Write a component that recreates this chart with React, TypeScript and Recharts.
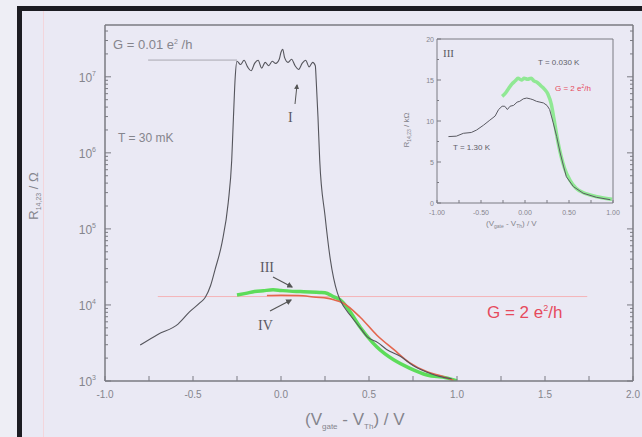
import React from 'react';
import { ComposedChart, LineChart, Line, XAxis, YAxis, ReferenceLine } from 'recharts';

// main panel: gate offset (V) vs four-terminal resistance (Ohm)
const curveIV = [-0.8, -0.7, -0.585, -0.52, -0.46, -0.43, -0.4, -0.375, -0.335, -0.3, -0.28, -0.27, -0.26, -0.25,
  -0.23, -0.21, -0.19, -0.17, -0.15, -0.13, -0.11, -0.09, -0.07, -0.05, -0.03, -0.01, 0.0, 0.01, 0.02, 0.04,
  0.06, 0.08, 0.1, 0.12, 0.14, 0.16, 0.18, 0.195, 0.2, 0.21, 0.22, 0.25, 0.28, 0.32, 0.335, 0.4, 0.45,
  0.49, 0.55, 0.6, 0.68, 0.75, 0.86, 0.9, 0.97];
const curveIR = [2970, 4100, 5600, 8100, 10700, 12600, 18000, 29000, 66000, 220000, 800000, 3000000, 10000000, 16000000,
  14500000, 16500000, 13500000, 12000000, 15000000, 16500000, 13000000, 15500000, 14000000, 16000000, 15000000, 17000000, 21000000, 23000000, 18000000, 15500000,
  17000000, 14000000, 12500000, 15000000, 16500000, 13500000, 15500000, 14000000, 9000000, 3000000, 800000, 150000, 40000, 14500, 11800, 7000, 5000,
  3800, 3200, 2600, 2100, 1600, 1230, 1150, 1070];

const curveIIIV = [-0.25, -0.2, -0.15, -0.1, -0.045, 0.0, 0.05, 0.11, 0.165, 0.22, 0.25, 0.3, 0.335, 0.375, 0.45, 0.545, 0.64, 0.73, 0.83, 0.94, 1.0];
const curveIIIR = [13500, 14200, 15000, 15400, 15800, 15500, 15200, 15000, 14800, 14600, 14500, 12800, 11700, 9300, 5100, 2800, 1900, 1480, 1200, 1100, 1000];

const curveIVV = [-0.08, 0.0, 0.1, 0.2, 0.26, 0.3, 0.35, 0.45, 0.545, 0.64, 0.73, 0.83, 0.92, 0.98];
const curveIVR = [13300, 13400, 13300, 12600, 12300, 11700, 10700, 6900, 4000, 2600, 1740, 1320, 1150, 1020];

const quantumR = 12900; // h / 2e^2
const pinchR = 16600000;

const xTicksMain = [-1, -0.75, -0.5, -0.25, 0, 0.25, 0.5, 0.75, 1, 1.25, 1.5, 1.75, 2];
const xLabelsMain = [-1, -0.5, 0, 0.5, 1, 1.5, 2];
const yDecades = [1e3, 1e4, 1e5, 1e6, 1e7];
const yTop = 48000000;

// inset: linear resistance in kOhm at two temperatures
const insetWarmV = [-0.87, -0.78, -0.7, -0.61, -0.55, -0.47, -0.4, -0.34, -0.3, -0.26, -0.23, -0.2, -0.17, -0.13, -0.09, -0.06, -0.02, 0.02,
  0.06, 0.09, 0.13, 0.17, 0.21, 0.25, 0.28, 0.3, 0.32, 0.36, 0.4, 0.44, 0.47, 0.55, 0.66, 0.81, 0.97];
const insetWarmR = [8.1, 8.15, 8.5, 8.6, 8.9, 9.5, 10.1, 10.6, 11.4, 11.8, 11.8, 11.4, 11.8, 11.9, 12.3, 12.4, 12.7, 12.8,
  12.7, 12.6, 12.4, 12.3, 12.2, 11.9, 11.4, 10.6, 9.8, 8.1, 6.1, 4.4, 3.2, 2.0, 1.2, 0.7, 0.4];

const insetColdV = [-0.26, -0.23, -0.19, -0.15, -0.11, -0.08, -0.04, -0.01, 0.03, 0.07, 0.1, 0.14, 0.18, 0.22, 0.26, 0.3, 0.33, 0.37,
  0.41, 0.45, 0.51, 0.58, 0.7, 0.85, 0.99];
const insetColdR = [13.0, 13.3, 13.9, 14.5, 14.9, 15.2, 15.0, 15.2, 15.1, 15.2, 14.9, 14.7, 14.3, 13.9, 13.3, 12.0, 10.2, 7.7,
  5.7, 4.2, 2.8, 1.8, 1.1, 0.7, 0.45];

const insetXTicks = [-1, -0.75, -0.5, -0.25, 0, 0.25, 0.5, 0.75, 1];
const insetXLabels = [-1, -0.5, 0, 0.5, 1];
const insetYTicks = [0, 2.5, 5, 7.5, 10, 12.5, 15, 17.5, 20];
const insetYLabels = [0, 5, 10, 15, 20];

const zip = (v: number[], r: number[]) => v.map((x, i) => ({ v: x, r: r[i] }));

const yTicksMain: number[] = [];
yDecades.forEach((d) => {
  for (let m = 1; m <= 9; m++) if (d * m <= yTop) yTicksMain.push(d * m);
});

const axisColor = '#7a7a82';
const textColor = '#85858d';
const font = '"Liberation Sans", Arial, sans-serif';
const serif = '"Liberation Serif", "Times New Roman", serif';

const isDecade = (v: number) => yDecades.includes(v);

const BottomTick = (p: any) => {
  const { x, y, payload } = p;
  const v = payload.value;
  return (
    <g>
      <line x1={x} x2={x} y1={y} y2={y - 5} stroke={axisColor} />
      {xLabelsMain.includes(v) && (
        <text x={x} y={y + 17} textAnchor="middle" fontSize={10} fill={textColor} fontFamily={font}>
          {v.toFixed(1)}
        </text>
      )}
    </g>
  );
};

const TopTick = (p: any) => (
  <line x1={p.x} x2={p.x} y1={p.y} y2={p.y + 5} stroke={axisColor} />
);

const LeftTick = (p: any) => {
  const { x, y, payload } = p;
  const v = payload.value;
  const major = isDecade(v);
  return (
    <g>
      <line x1={x} x2={x + (major ? 6 : 3)} y1={y} y2={y} stroke={axisColor} />
      {major && (
        <text x={x - 9} y={y + 5} textAnchor="end" fontSize={12} fill={textColor} fontFamily={font}>
          10<tspan dy={-6} fontSize={7}>{Math.round(Math.log10(v))}</tspan>
        </text>
      )}
    </g>
  );
};

const RightTick = (p: any) => {
  const major = isDecade(p.payload.value);
  return <line x1={p.x} x2={p.x - (major ? 6 : 3)} y1={p.y} y2={p.y} stroke={axisColor} />;
};

const InsetBottomTick = (p: any) => {
  const { x, y, payload } = p;
  const v = payload.value;
  return (
    <g>
      <line x1={x} x2={x} y1={y} y2={y - 3} stroke={axisColor} />
      {insetXLabels.includes(v) && (
        <text x={x} y={y + 12} textAnchor="middle" fontSize={7} fill={textColor} fontFamily={font}>
          {v.toFixed(2)}
        </text>
      )}
    </g>
  );
};

const InsetLeftTick = (p: any) => {
  const { x, y, payload } = p;
  const v = payload.value;
  const major = insetYLabels.includes(v);
  return (
    <g>
      <line x1={x} x2={x + (major ? 4 : 2)} y1={y} y2={y} stroke={axisColor} />
      {major && (
        <text x={x - 3} y={y + 3} textAnchor="end" fontSize={7} fill={textColor} fontFamily={font}>
          {v}
        </text>
      )}
    </g>
  );
};

const MainPanel = () => (
  <ComposedChart width={642} height={437} margin={{ top: 24, right: 8, left: 45, bottom: 26 }}
    style={{ position: 'absolute', left: 0, top: 0 }}>
    <XAxis dataKey="v" type="number" domain={[-1, 2]} ticks={xTicksMain} interval={0} height={30}
      tickSize={0} tickMargin={0} tickLine={false} tick={BottomTick} axisLine={{ stroke: axisColor, strokeWidth: 1.5 }}
      allowDataOverflow />
    <XAxis xAxisId="top" orientation="top" type="number" domain={[-1, 2]} ticks={xTicksMain} interval={0} height={1}
      tickSize={0} tickMargin={0} tickLine={false} tick={TopTick} axisLine={{ stroke: axisColor, strokeWidth: 1.5 }}
      allowDataOverflow />
    <YAxis type="number" scale="log" domain={[1000, yTop]} ticks={yTicksMain} interval={0} width={60}
      tickSize={0} tickMargin={0} tickLine={false} tick={LeftTick} axisLine={{ stroke: axisColor, strokeWidth: 1.5 }}
      allowDataOverflow />
    <YAxis yAxisId="right" orientation="right" type="number" scale="log" domain={[1000, yTop]} ticks={yTicksMain}
      interval={0} width={1} tickSize={0} tickMargin={0} tickLine={false} tick={RightTick}
      axisLine={{ stroke: axisColor, strokeWidth: 1.5 }} allowDataOverflow />
    <ReferenceLine segment={[{ x: -0.7, y: quantumR }, { x: 1.74, y: quantumR }]} stroke="#f4b4b8" strokeWidth={1} />
    <ReferenceLine segment={[{ x: -0.755, y: pinchR }, { x: -0.25, y: pinchR }]} stroke="#a8a8b0" strokeWidth={1} />
    <Line data={zip(curveIIIV, curveIIIR)} dataKey="r" type="monotone" stroke="#5ddc5a" strokeWidth={3.5}
      dot={false} isAnimationActive={false} />
    <Line data={zip(curveIVV, curveIVR)} dataKey="r" type="monotone" stroke="#e4664e" strokeWidth={1.6}
      dot={false} isAnimationActive={false} />
    <Line data={zip(curveIV, curveIR)} dataKey="r" type="monotone" stroke="#55555c" strokeWidth={1.1}
      dot={false} isAnimationActive={false} />
  </ComposedChart>
);

const InsetPanel = () => (
  <LineChart width={230} height={215} margin={{ top: 18, right: 16, left: 7, bottom: 12 }}
    style={{ position: 'absolute', left: 400, top: 20 }}>
    <XAxis dataKey="v" type="number" domain={[-1, 1]} ticks={insetXTicks} interval={0} height={20}
      tickSize={0} tickMargin={0} tickLine={false} tick={InsetBottomTick} axisLine={{ stroke: axisColor }}
      allowDataOverflow />
    <XAxis xAxisId="top" orientation="top" type="number" domain={[-1, 1]} height={1} tick={false}
      tickLine={false} axisLine={{ stroke: axisColor }} />
    <YAxis type="number" domain={[0, 20]} ticks={insetYTicks} interval={0} width={30} tickSize={0}
      tickMargin={0} tickLine={false} tick={InsetLeftTick} axisLine={{ stroke: axisColor }} allowDataOverflow />
    <YAxis yAxisId="right" orientation="right" type="number" domain={[0, 20]} width={1} tick={false}
      tickLine={false} axisLine={{ stroke: axisColor }} />
    <Line data={zip(insetColdV, insetColdR)} dataKey="r" type="monotone" stroke="#86e889" strokeWidth={3.5}
      strokeOpacity={0.9} dot={false} isAnimationActive={false} />
    <Line data={zip(insetWarmV, insetWarmR)} dataKey="r" type="linear" stroke="#5a5a62" strokeWidth={1}
      dot={false} isAnimationActive={false} />
  </LineChart>
);

const Annotations = () => (
  <svg width={642} height={437} style={{ position: 'absolute', left: 0, top: 0, pointerEvents: 'none' }}>
    <defs>
      <marker id="head" viewBox="0 0 10 10" refX="8" refY="5" markerWidth="5" markerHeight="5" orient="auto">
        <path d="M0,0 L10,5 L0,10 z" fill="#555" />
      </marker>
    </defs>
    {/* y label */}
    <text transform="translate(38,196) rotate(-90)" textAnchor="middle" fontSize={13} fill={textColor} fontFamily={font}>
      R<tspan dy={3} fontSize={7}>14,23</tspan><tspan dy={-3}> / Ω</tspan>
    </text>
    {/* x label */}
    <text x={305} y={425} fontSize={17} fill={textColor} fontFamily={font}>
      (V<tspan dy={4} fontSize={8}>gate</tspan><tspan dy={-4}> - V</tspan><tspan dy={4} fontSize={8}>Th</tspan>
      <tspan dy={-4}>) / V</tspan>
    </text>
    <text x={113} y={49} fontSize={13} fill={textColor} fontFamily={font}>
      G = 0.01 e<tspan dy={-5} fontSize={7}>2</tspan><tspan dy={5}> /h</tspan>
    </text>
    <text x={118} y={142} fontSize={12} fill={textColor} fontFamily={font}>T = 30 mK</text>
    <text x={288} y={122} fontSize={14} fill="#5a5a62" fontFamily={serif}>I</text>
    <line x1={295} y1={104} x2={297} y2={85} stroke="#555" strokeWidth={1} markerEnd="url(#head)" />
    <text x={260} y={272} fontSize={14} fill="#5a5a62" fontFamily={serif}>III</text>
    <line x1={273} y1={277} x2={292} y2={287} stroke="#555" strokeWidth={1.2} markerEnd="url(#head)" />
    <text x={258} y={330} fontSize={14} fill="#5a5a62" fontFamily={serif}>IV</text>
    <line x1={270} y1={311} x2={291} y2={300} stroke="#555" strokeWidth={1.2} markerEnd="url(#head)" />
    <text x={487} y={318} fontSize={17} fill="#e64a5c" fontFamily={font}>
      G = 2 e<tspan dy={-7} fontSize={9}>2</tspan><tspan dy={7}>/h</tspan>
    </text>
    {/* inset labels */}
    <text transform="translate(409,130) rotate(-90)" textAnchor="middle" fontSize={8} fill={textColor} fontFamily={font}>
      R<tspan dy={2} fontSize={5}>14,23</tspan><tspan dy={-2}> / kΩ</tspan>
    </text>
    <text x={486} y={226} fontSize={8} fill={textColor} fontFamily={font}>
      (V<tspan dy={2} fontSize={5}>gate</tspan><tspan dy={-2}> - V</tspan><tspan dy={2} fontSize={5}>Th</tspan>
      <tspan dy={-2}>) / V</tspan>
    </text>
    <text x={443} y={57} fontSize={11} fill="#5a5a62" fontFamily={serif}>III</text>
    <text x={538} y={65} fontSize={8} fill="#606068" fontFamily={font}>T = 0.030 K</text>
    <text x={555} y={91} fontSize={8} fill="#e64a5c" fontFamily={font}>
      G = 2 e<tspan dy={-3} fontSize={5}>2</tspan><tspan dy={3}>/h</tspan>
    </text>
    <text x={453} y={150} fontSize={8} fill="#606068" fontFamily={font}>T = 1.30 K</text>
  </svg>
);

export default function App() {
  return (
    <div style={{ position: 'fixed', left: 0, top: 0, width: 642, height: 437, background: '#eeeef5', overflow: 'hidden' }}>
      {/* dark frame on top and left, panel face inside */}
      <div style={{ position: 'absolute', left: 17, top: 6, right: 0, bottom: 0, background: '#1c1c22' }} />
      <div style={{ position: 'absolute', left: 22, top: 11, right: 0, bottom: 0, background: '#eae9f4' }} />
      <div style={{ position: 'absolute', left: 43, top: 11, width: 1, bottom: 0, background: '#f3d6dc' }} />
      <MainPanel />
      <InsetPanel />
      <Annotations />
    </div>
  );
}
